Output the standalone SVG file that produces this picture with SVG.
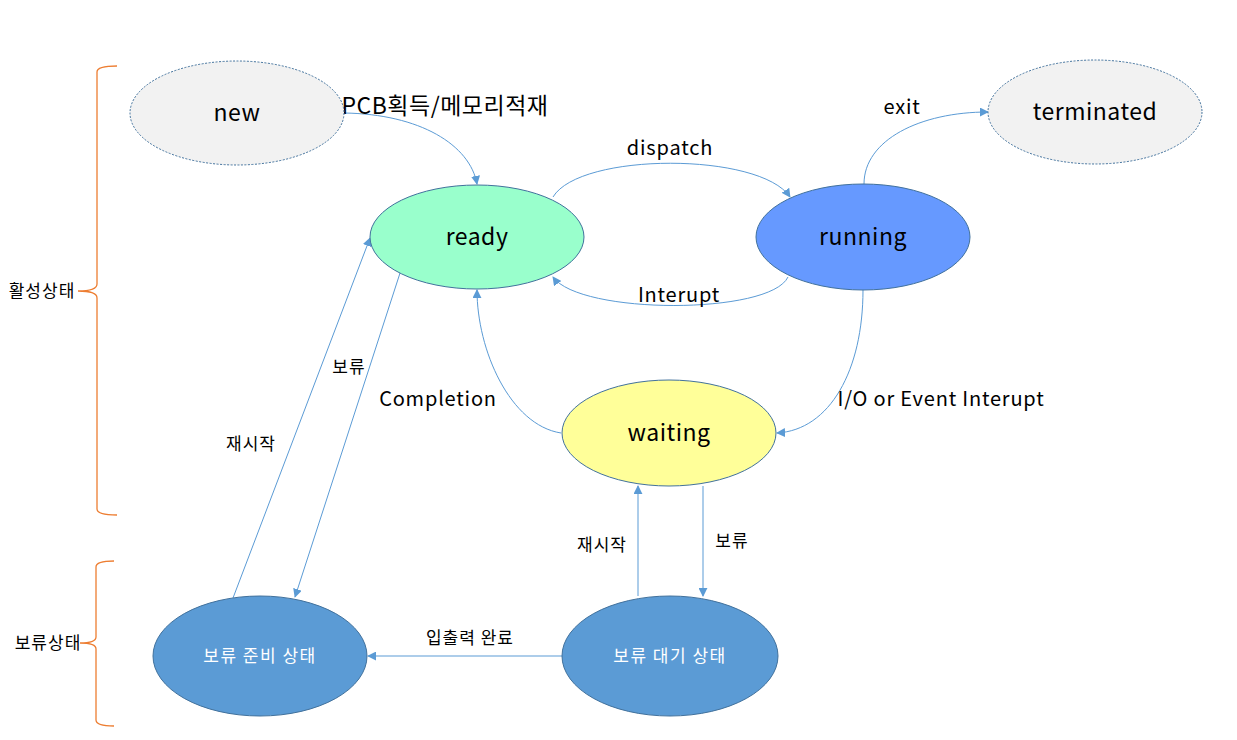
<svg xmlns="http://www.w3.org/2000/svg" width="1237" height="740" viewBox="0 0 1237 740">
<style>
.t{font-family:"Noto Sans CJK KR","Noto Sans",sans-serif;fill:#000;text-anchor:middle}
.n{font-size:23px;letter-spacing:0.5px}
.l{font-size:20px;letter-spacing:0.8px}
.s{font-size:17px;letter-spacing:1px}
.w{fill:#fff;font-size:17px;letter-spacing:1.5px}
.c{fill:none;stroke:#5b9bd5;stroke-width:1}
.b{fill:none;stroke:#ed7d31;stroke-width:1.3}
.e{stroke:#41719c;stroke-width:1}
.d{fill:#f2f2f2;stroke:#41719c;stroke-width:1;stroke-dasharray:2,1.5}
</style>
<defs>
<marker id="a" viewBox="0 0 10 10" refX="9" refY="5" markerWidth="9" markerHeight="9" markerUnits="userSpaceOnUse" orient="auto">
<path d="M0,0 L10,5 L0,10 z" fill="#5b9bd5"/>
</marker>
</defs>
<rect width="1237" height="740" fill="#fff"/>
<g id="brackets">
<path class="b" d="M117,66 Q97,66 97,72 L97,284 Q97,291 78,291 Q97,291 97,298 L97,509 Q97,515 117,515"/>
<path class="b" d="M114,561 Q96,561 96,567 L96,637 Q96,643 80,643 Q96,643 96,649 L96,720 Q96,726 114,726"/>
<text class="t s" x="42" y="297">활성상태</text>
<text class="t s" x="48" y="649">보류상태</text>
</g>
<g id="connectors">
<path class="c" marker-end="url(#a)" d="M344,113 C420,114 470,145 477,184"/>
<path class="c" marker-end="url(#a)" d="M553,197 C580,152 760,152 790,197"/>
<path class="c" marker-end="url(#a)" d="M788,277 C770,315 580,315 553,277"/>
<path class="c" marker-end="url(#a)" d="M864,184 C864,140 920,112 988,112"/>
<path class="c" marker-end="url(#a)" d="M863,290 C863,370 830,430 777,433"/>
<path class="c" marker-end="url(#a)" d="M561,433 C510,425 477,350 477,290"/>
<path class="c" marker-end="url(#a)" d="M401,270 L295,597"/>
<path class="c" marker-end="url(#a)" d="M233,598 L370,238"/>
<path class="c" marker-end="url(#a)" d="M638,596 L638,486"/>
<path class="c" marker-end="url(#a)" d="M703,486 L703,596"/>
<path class="c" marker-end="url(#a)" d="M562,656 L368,656"/>
<text class="t n" x="445" y="114">PCB획득/메모리적재</text>
<text class="t l" x="670" y="155">dispatch</text>
<text class="t l" x="679" y="302">Interupt</text>
<text class="t l" x="902" y="114">exit</text>
<text class="t l" x="941" y="406">I/O or Event Interupt</text>
<text class="t l" x="438" y="406">Completion</text>
<text class="t s" x="349" y="373">보류</text>
<text class="t s" x="251" y="450">재시작</text>
<text class="t s" x="602" y="551">재시작</text>
<text class="t s" x="732" y="547">보류</text>
<text class="t s" x="470" y="644">입출력 완료</text>
</g>
<g id="new"><ellipse class="d" cx="237" cy="113" rx="107" ry="52"/><text class="t n" x="237" y="121">new</text></g>
<g id="terminated"><ellipse class="d" cx="1095" cy="112" rx="107" ry="52"/><text class="t n" x="1095" y="120">terminated</text></g>
<g id="ready"><ellipse class="e" fill="#99ffcc" cx="477" cy="237" rx="107" ry="52"/><text class="t n" x="477" y="245">ready</text></g>
<g id="running"><ellipse class="e" fill="#6699ff" cx="863" cy="237" rx="107" ry="53"/><text class="t n" x="863" y="245">running</text></g>
<g id="waiting"><ellipse class="e" fill="#ffff99" cx="669" cy="433" rx="107" ry="53"/><text class="t n" x="669" y="441">waiting</text></g>
<g id="suspend-ready"><ellipse class="e" fill="#5b9bd5" cx="260" cy="656" rx="107" ry="60"/><text class="t w" x="260" y="662">보류 준비 상태</text></g>
<g id="suspend-wait"><ellipse class="e" fill="#5b9bd5" cx="670" cy="656" rx="108" ry="60"/><text class="t w" x="670" y="662">보류 대기 상태</text></g>
</svg>
